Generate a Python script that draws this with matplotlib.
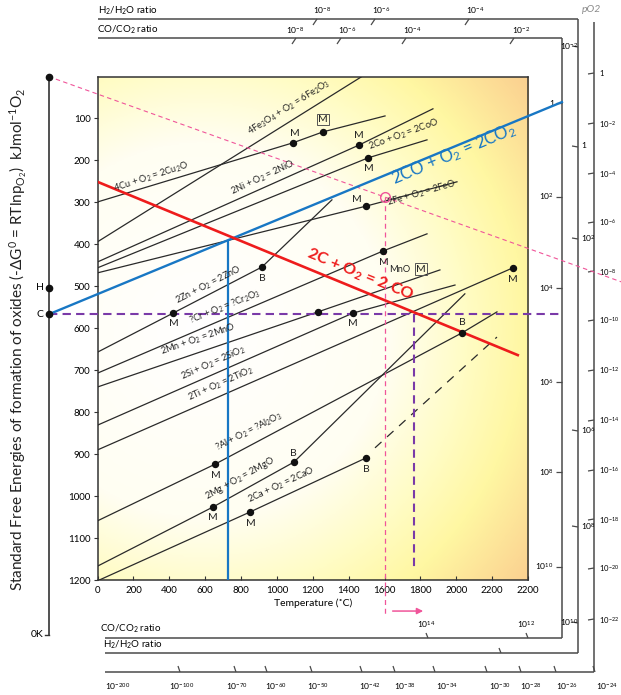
import numpy as np
import matplotlib
matplotlib.use("Agg")
import matplotlib.pyplot as plt
from matplotlib.colors import LinearSegmentedColormap
from matplotlib.patches import Rectangle

plt.rcParams['font.family'] = ['Lato', 'DejaVu Sans']
plt.rcParams['mathtext.fontset'] = 'custom'
plt.rcParams['mathtext.rm'] = 'Lato'
plt.rcParams['mathtext.it'] = 'Lato:italic'
plt.rcParams['mathtext.bf'] = 'Lato:bold'

# ---- data: temperature (C) vs -dG0 (kJ/mol O2) ----
cu_T, cu_G = [0, 1090, 1257, 1603], [299, 158, 132, 94]
fe2o3_T, fe2o3_G = [0, 1474], [394, 0]
ni_T, ni_G = [0, 1460, 1870], [442, 163, 77]
co_T, co_G = [0, 1508, 1837], [456, 194, 151]
feo_T, feo_G = [0, 1497, 2004], [468, 309, 251]
zn_T, zn_G = [0, 421, 917, 1307], [657, 564, 454, 294]
cr_T, cr_G = [0, 1591, 1837], [707, 416, 375]
mn_T, mn_G = [0, 1229, 1909], [740, 561, 461]
si_T, si_G = [0, 1423, 1993], [831, 564, 497]
ti_T, ti_G = [0, 2316], [890, 456]
al_T, al_G = [0, 655, 2032, 2227], [1059, 924, 611, 561]
mg_T, mg_G = [0, 644, 1095, 2048], [1167, 1026, 919, 518]
ca_T, ca_G = [0, 850, 1497], [1202, 1038, 909]
ca_gas_T, ca_gas_G = [1547, 2227], [885, 621]

# carbon lines and construction lines
co2_T, co2_G = [-273, 2589], [567, 61]          # 2CO + O2 = 2CO2
c_T, c_G = [0, 2343], [251, 664]                # 2C + O2 = 2CO
po2_T, po2_G = [-273, 2950], [0, 494]           # line from O through 1600 C
abs0_T = -273
ohc_G = [0, 504, 567]                            # O, H, C points at 0 K
abs0_bottom_G = 1331
co_eq_T, co_eq_G = 730, 393                      # blue vertical
purple_G, purple_T = 567, 1764
pink_T, pink_G, pink_bottom_G = 1600, 287, 1288

# change-of-state points
ev_T = [1090, 1257, 1460, 1508, 1497, 917, 421, 1591, 1229, 1423, 2316, 2032, 655, 644, 1095, 850, 1497]
ev_G = [158, 132, 163, 194, 309, 454, 564, 416, 561, 564, 456, 611, 924, 1026, 919, 1038, 909]
ev_mark = ['M', 'M', 'M', 'M', 'M', 'B', 'M', 'M', '', 'M', 'M', 'B', 'M', 'M', 'B', 'M', 'B']
ev_boxed = [False, True] + [False] * 15

x_ticks = list(range(0, 2401, 200))
x_labels = ['0', '200', '400', '600', '800', '1000', '1200', '1400', '1600', '1800', '2000', '2200', '2200']
y_ticks = list(range(100, 1201, 100))

# nomograph scales
h2_top_lab = ['10$^{-8}$', '10$^{-6}$', '10$^{-4}$']
co_top_lab = ['10$^{-8}$', '10$^{-6}$', '10$^{-4}$', '10$^{-2}$']
co_right_lab = ['1', '10$^{2}$', '10$^{4}$', '10$^{6}$', '10$^{8}$', '10$^{10}$']
h2_right_lab = ['10$^{-2}$', '1', '10$^{2}$', '10$^{6}$', '10$^{8}$', '10$^{10}$']
po2_right_lab = ['1', '10$^{-2}$', '10$^{-4}$', '10$^{-6}$', '10$^{-8}$', '10$^{-10}$', '10$^{-12}$',
                 '10$^{-14}$', '10$^{-16}$', '10$^{-18}$', '10$^{-20}$', '10$^{-22}$']
co_bot_lab = ['10$^{14}$', '10$^{12}$']
po2_bot_lab = ['10$^{-200}$', '10$^{-100}$', '10$^{-70}$', '10$^{-60}$', '10$^{-50}$', '10$^{-42}$',
               '10$^{-38}$', '10$^{-34}$', '10$^{-30}$', '10$^{-28}$', '10$^{-26}$', '10$^{-24}$']

# ---- layout (pixels) ----
W, H = 621, 695
AX_L, AX_R, AX_T, AX_B = 97.5, 528, 76.5, 580
h2_top_x, h2_top_lx = [315, 373, 467], [322, 381, 475]
co_top_x, co_top_lx = [294, 339, 404, 512], [295, 347, 412, 521]
co_right_y = [103, 197, 288, 382, 472, 567]
h2_right_y = [46, 146, 238, 430, 526, 622]
h2_right_side = ['l', 'r', 'r', 'r', 'r', 'l']
po2_right_y = [73, 123, 173, 222, 271, 320, 370, 420, 470, 519, 568, 619]
co_bot_x, co_bot_lx = [428, 528], [426, 526]
po2_bot_x = [180, 236, 267, 312, 362, 395, 435, 487, 521, 556, 595]
po2_bot_lx = [118, 182, 237, 276, 318, 370, 405, 447, 500, 531, 567, 607]

fig = plt.figure(figsize=(W / 100, H / 100), dpi=100)
deco = fig.add_axes([0, 0, 1, 1])
deco.set_xlim(0, W)
deco.set_ylim(H, 0)
deco.axis('off')

ax = fig.add_axes([AX_L / W, 1 - AX_B / H, (AX_R - AX_L) / W, (AX_B - AX_T) / H])

# background gradient
Tg, Gg = np.meshgrid(np.linspace(0, 2400, 400), np.linspace(0, 1200, 400))
xp = AX_L + Tg * (AX_R - AX_L) / 2400
yp = AX_T + Gg * (AX_B - AX_T) / 1200
t = np.hypot((xp - 200) / 330, (yp - 330) / 330) / 1.35
bg = LinearSegmentedColormap.from_list('bg', [(0, '#ffffff'), (0.42, '#fffef2'), (0.6, '#fffcc4'),
                                             (0.73, '#fff7a2'), (0.88, '#fcd994'), (1.0, '#f8c28a')])
ax.imshow(t, extent=(0, 2400, 1200, 0), cmap=bg, vmin=0, vmax=1, aspect='auto', zorder=0,
          origin='upper', interpolation='bilinear')
ax.set_xlim(0, 2400)
ax.set_ylim(1200, 0)

LC = '#2a2a2a'
FS = 6.7
reactions = [
    (cu_T, cu_G, "4Cu + O$_2$ = 2Cu$_2$O", (103, 283), 18),
    (fe2o3_T, fe2o3_G, "4Fe$_3$O$_4$ + O$_2$ = 6Fe$_2$O$_3$", (862, 146), 32),
    (ni_T, ni_G, "2Ni + O$_2$ = 2NiO", (762, 290), 25),
    (co_T, co_G, "2Co + O$_2$ = 2CoO", (1526, 182), 20),
    (feo_T, feo_G, "2Fe + O$_2$ = 2FeO", (1625, 316), 16),
    (zn_T, zn_G, "2Zn + O$_2$ = 2ZnO", (455, 549), 27),
    (cr_T, cr_G, "?Cr + O$_2$ = ?Cr$_2$O$_3$", (527, 597), 22),
    (mn_T, mn_G, "2Mn + O$_2$ = 2MnO", (365, 671), 19),
    (si_T, si_G, "2Si + O$_2$ = 2SiO$_2$", (482, 731), 24),
    (ti_T, ti_G, "2Ti + O$_2$ = 2TiO$_2$", (521, 781), 24),
    (al_T, al_G, "?Al + O$_2$ = ?Al$_2$O$_3$", (678, 899), 27),
    (mg_T, mg_G, "2Mg + O$_2$ = 2MgO", (622, 1017), 29),
    (ca_T, ca_G, "2Ca + O$_2$ = 2CaO", (855, 1024), 25),
]
for T, G, lab, (lt, lg), ang in reactions:
    ax.plot(T, G, color=LC, lw=0.9, zorder=3)
    ax.text(lt, lg, lab, rotation=ang, rotation_mode='anchor', ha='left', va='bottom',
            fontsize=FS, color='#222', zorder=6)
ax.plot(ca_gas_T, ca_gas_G, color=LC, lw=0.9, ls=(0, (7, 6)), zorder=3)

# change of state points
off = [(1.5, 7), (0, 9), (-0.5, 7), (0.5, -7.5), (-6.5, 5), (0, -8.5), (0.5, -7.5), (0.5, -8),
       (0, -8), (0, -7.5), (0, -8.5), (0, 7.5), (0.5, -8), (0, -7.5), (-0.5, 6), (0.5, -8), (0, -8)]
ax.plot(ev_T, ev_G, 'o', ms=4.3, color='#111', zorder=7)
for T, G, m, bx, o in zip(ev_T, ev_G, ev_mark, ev_boxed, off):
    if not m:
        continue
    kw = dict(bbox=dict(boxstyle='square,pad=0.12', fc='none', ec='#555', lw=0.7)) if bx else {}
    ax.annotate(m, (T, G), xytext=o, textcoords='offset points', ha='center', va='center',
                fontsize=7.5, color='#222', zorder=7, **kw)
ax.text(1686, 461, "MnO", fontsize=FS, ha='center', va='center', color='#222', zorder=6)
ax.text(1803, 459, "M", fontsize=7.5, ha='center', va='center', color='#222', zorder=6,
        bbox=dict(boxstyle='square,pad=0.12', fc='none', ec='#555', lw=0.7))

# carbon lines
BLUE, RED, PURPLE, PINK = '#1877c4', '#ee1c1c', '#7a3aa8', '#f0559a'
ax.plot(po2_T, po2_G, color=PINK, lw=0.8, ls=(0, (4, 3)), clip_on=False, zorder=4)
ax.plot([pink_T, pink_T], [pink_G, pink_bottom_G], color=PINK, lw=0.9, ls=(0, (4, 3)), clip_on=False, zorder=4)
ax.plot([pink_T], [pink_G], 'o', ms=7, mfc='none', mec=PINK, mew=1.0, zorder=8)
ax.annotate('', xy=(1831, 1274), xytext=(1630, 1274), annotation_clip=False,
            arrowprops=dict(arrowstyle='-|>', color=PINK, lw=1.1, mutation_scale=9))
ax.plot([abs0_T, co2_T[1]], [purple_G, purple_G], color=PURPLE, lw=1.5, ls=(0, (4, 2.5)), clip_on=False, zorder=5)
ax.plot([purple_T, purple_T], [purple_G, 1169], color=PURPLE, lw=1.5, ls=(0, (4, 2.5)), zorder=5)
ax.plot(co2_T, co2_G, color=BLUE, lw=1.7, clip_on=False, zorder=5)
ax.plot([co_eq_T, co_eq_T], [1200, co_eq_G], color=BLUE, lw=1.6, zorder=5)
ax.plot(c_T, c_G, color=RED, lw=1.9, zorder=5)
ax.text(1665, 268, "2CO + O$_2$ = 2CO$_2$", color=BLUE, fontsize=12, rotation=22.7,
        rotation_mode='anchor', ha='left', va='bottom', zorder=8)
ax.text(1150, 440, "2C + O$_\\mathbf{2}$ = 2 CO", color=RED, fontsize=11.8, fontweight='bold',
        rotation=-22.3, rotation_mode='anchor', ha='left', va='bottom', zorder=8)

# O-H-C line at absolute zero
ax.plot([abs0_T, abs0_T], [0, abs0_bottom_G], color='#333', lw=1.2, clip_on=False)
ax.plot([abs0_T - 22, abs0_T], [abs0_bottom_G, abs0_bottom_G], color='#333', lw=1.0, clip_on=False)
ax.plot([abs0_T] * 3, ohc_G, 'o', ms=4.5, color='#111', clip_on=False, zorder=8)
ax.text(abs0_T - 28, ohc_G[1], 'H', fontsize=7.5, ha='right', va='center')
ax.text(abs0_T - 28, ohc_G[2], 'C', fontsize=7.5, ha='right', va='center')
ax.text(abs0_T - 28, abs0_bottom_G, '0K', fontsize=7.5, ha='right', va='center')

# axes styling
for s in ax.spines.values():
    s.set_color('#333')
    s.set_linewidth(1.1)
ax.set_xticks(x_ticks)
ax.set_xticklabels(x_labels)
ax.set_yticks(y_ticks)
ax.tick_params(axis='x', direction='in', length=3, labelsize=7, pad=4, color='#333')
ax.tick_params(axis='y', direction='out', length=3, labelsize=7, pad=2, color='#333')
ax.set_xlabel("Temperature (˚C)", fontsize=7.5, labelpad=3)

# legend
deco.text(345, 515, "Change of state", fontsize=7.2, style='italic', va='center', zorder=10)
deco.text(422, 515, "Element", fontsize=7.2, style='italic', va='center', zorder=10)
deco.text(468, 515, "Oxide", fontsize=7.2, style='italic', va='center', zorder=10)
deco.text(345, 533, "Melting Point", fontsize=7.2, va='center')
deco.text(345, 546, "Boiling Point", fontsize=7.2, va='center')
for y, m in [(533, 'M'), (546, 'B')]:
    deco.text(433, y, m, fontsize=7.8, ha='center', va='center')
    deco.text(477, y, m, fontsize=7.8, ha='center', va='center')
    deco.add_patch(Rectangle((470, y - 6.5), 14, 12.5, fc='none', ec='#555', lw=0.7))

# nomograph frames
FC = '#4a4a4a'
NF = 6.1
def seg(x0, y0, x1, y1, lw=1.1):
    deco.plot([x0, x1], [y0, y1], color=FC, lw=lw, solid_capstyle='butt')

seg(98, 19, 578, 19); seg(578, 19, 578, 653); seg(105, 653, 578, 653)
seg(98, 38, 562, 38); seg(562, 38, 562, 638); seg(105, 638, 562, 638)
seg(594, 22, 594, 672); seg(105, 672, 594, 672)

deco.text(98, 11, "H$_2$/H$_2$O ratio", fontsize=7, va='center')
deco.text(97, 30, "CO/CO$_2$ ratio", fontsize=7, va='center')
deco.text(100, 629, "CO/CO$_2$ ratio", fontsize=7, va='center')
deco.text(103, 645, "H$_2$/H$_2$O ratio", fontsize=7, va='center')
deco.text(592, 10, "pO2", fontsize=7.5, style='italic', color='#8a8a8a', ha='center', va='center')

for x, lx, lab in zip(h2_top_x, h2_top_lx, h2_top_lab):
    seg(x + 2, 19, x - 2, 25, 0.9)
    deco.text(lx, 11, lab, fontsize=NF, ha='center', va='center')
for x, lx, lab in zip(co_top_x, co_top_lx, co_top_lab):
    seg(x + 2, 38, x - 2, 44, 0.9)
    deco.text(lx, 30, lab, fontsize=NF, ha='center', va='center')
for y, lab in zip(co_right_y, co_right_lab):
    seg(556, y, 562, y, 0.9)
    deco.text(554, y, lab, fontsize=NF, ha='right', va='center')
for y, lab, side in zip(h2_right_y, h2_right_lab, h2_right_side):
    seg(572, y, 578, y + 1, 0.9)
    if side == 'r':
        deco.text(581, y, lab, fontsize=NF, ha='left', va='center')
    else:
        deco.text(569, y, lab, fontsize=NF, ha='center', va='center')
for y, lab in zip(po2_right_y, po2_right_lab):
    seg(588, y + 1, 594, y, 0.9)
    deco.text(599, y + 1, lab, fontsize=5.6, ha='left', va='center')
for x, lx, lab in zip(co_bot_x, co_bot_lx, co_bot_lab):
    seg(x - 2, 633, x, 638, 0.9)
    deco.text(lx, 625, lab, fontsize=NF, ha='center', va='center')
seg(499, 648, 501, 653, 0.9)
for x in po2_bot_x:
    seg(x - 2, 666, x, 672, 0.9)
for lx, lab in zip(po2_bot_lx, po2_bot_lab):
    deco.text(lx, 687, lab, fontsize=NF, ha='center', va='center')

deco.text(18, 339, "Standard Free Energies of formation of oxides (-ΔG$^0$ = RTlnp$_{\\mathrm{O}_2}$)  kJmol$^{-1}$O$_2$",
          fontsize=11, rotation=90, ha='center', va='center', color='#222')

fig.savefig("out.png", dpi=100)
